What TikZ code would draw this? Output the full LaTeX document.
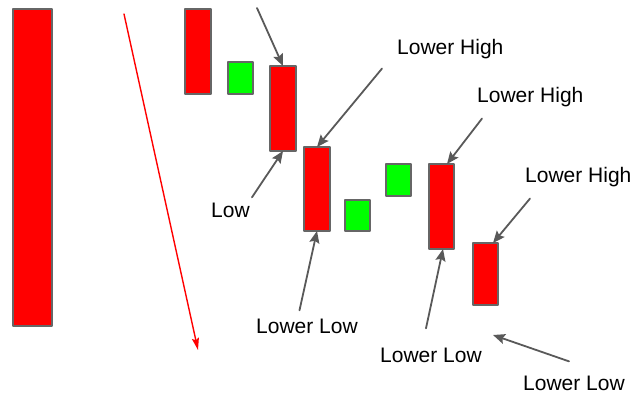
\documentclass[tikz,border=0pt]{standalone}
\usepackage{fontspec}
\setmainfont{Liberation Sans}
\usetikzlibrary{calc,arrows.meta}

\definecolor{candlered}{HTML}{FF0000}
\definecolor{candlegreen}{HTML}{00FF00}
\definecolor{edgegray}{HTML}{666666}
\definecolor{arrowgray}{HTML}{595959}

\tikzset{
  bear/.style={draw=edgegray,fill=candlered,line width=2pt,inner sep=0pt,outer sep=0pt},
  bull/.style={draw=edgegray,fill=candlegreen,line width=2pt,inner sep=0pt,outer sep=0pt},
  tag/.style={inner sep=2pt,anchor=base west,font=\fontsize{21}{25}\selectfont},
  pointer/.style={draw=arrowgray,line width=1.8pt,-{Stealth[length=12pt,width=10pt,inset=2pt]}},
  trend/.style={draw=candlered,line width=1.4pt,-{Stealth[length=12pt,width=7pt,inset=2pt]}}
}

\begin{document}
\begin{tikzpicture}[x=1pt,y=-1pt,line cap=round,line join=round]
  \useasboundingbox (0,0) rectangle (634,394);
  % Kerzen
  \node[bear,minimum width=39pt,minimum height=317pt] (c1) at (32.5,167.5) {};
  \node[bear,minimum width=26pt,minimum height=85pt] (c2) at (198,51.5) {};
  \node[bull,minimum width=25pt,minimum height=32pt] (g1) at (240.5,78) {};
  \node[bear,minimum width=26pt,minimum height=85pt] (c3) at (283,108.5) {};
  \node[bear,minimum width=26pt,minimum height=84pt] (c4) at (317,189) {};
  \node[bull,minimum width=25pt,minimum height=31pt] (g2) at (357.5,215.5) {};
  \node[bull,minimum width=25pt,minimum height=32pt] (g3) at (398.5,180) {};
  \node[bear,minimum width=25pt,minimum height=85pt] (c5) at (441.5,206.5) {};
  \node[bear,minimum width=25pt,minimum height=62pt] (c6) at (485.5,274) {};
  % Trendlinie
  \coordinate (trendtop) at (124,14);
  \coordinate (trendend) at (198,350);
  \draw[trend] (trendtop) -- (trendend);
  % Beschriftungen
  \node[tag] (low) at (209,217) {Low};
  \node[tag] (lh1) at (395,54) {Lower High};
  \node[tag] (lh2) at (475,102) {Lower High};
  \node[tag] (lh3) at (523,182) {Lower High};
  \node[tag] (ll1) at (254,333) {Lower Low};
  \node[tag] (ll2) at (378,362) {Lower Low};
  \node[tag] (ll3) at (521,390.5) {Lower Low};
  % Pfeile
  \coordinate (topstart) at (257,8);
  \coordinate (ll3tip) at (493,335);
  \draw[pointer] (topstart) -- (c3.north);
  \draw[pointer] ($(low.north east)+(0,-3)$) -- (c3.south);
  \draw[pointer] ($(lh1.south west)+(-13,8)$) -- (c4.north);
  \draw[pointer] ($(lh2.south west)+(7,10)$) -- ($(c5.north)+(5.5,0)$);
  \draw[pointer] ($(lh3.south west)+(7,10)$) -- ($(c6.north)+(7.5,0)$);
  \draw[pointer] ($(ll1.north)+(-7.5,-6)$) -- (c4.south);
  \draw[pointer] ($(ll2.north)+(-5,-17)$) -- ($(c5.south)+(1.5,0)$);
  \draw[pointer] ($(ll3.north)+(-5,-12.5)$) -- (ll3tip);
\end{tikzpicture}
\end{document}
